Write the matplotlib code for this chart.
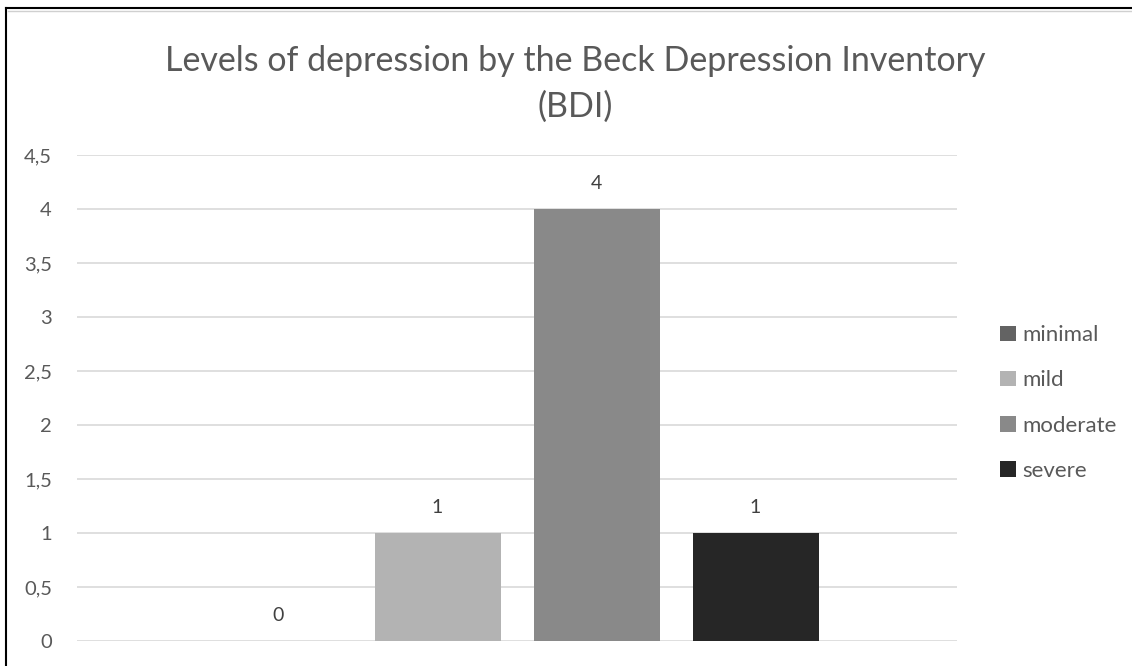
import matplotlib
matplotlib.use("Agg")
import matplotlib.pyplot as plt
from matplotlib.lines import Line2D
from matplotlib.patches import Patch

# Data
levels = ["minimal", "mild", "moderate", "severe"]
counts = [0, 1, 4, 1]
colors = ["#636363", "#b3b3b3", "#898989", "#262626"]
yticks = [0, 0.5, 1, 1.5, 2, 2.5, 3, 3.5, 4, 4.5]
ytick_labels = ["0", "0,5", "1", "1,5", "2", "2,5", "3", "3,5", "4", "4,5"]
title = "Levels of depression by the Beck Depression Inventory\n(BDI)"

plt.rcParams["font.family"] = ["Lato", "DejaVu Sans"]
text_color = "#595959"

W, H = 1132, 666
fig = plt.figure(figsize=(W / 100, H / 100), dpi=100)
ax = fig.add_axes([77 / W, (H - 641) / H, (957 - 77) / W, (641 - 155) / H])

bar_w = 126 / 880
step = 159 / 880
n = len(levels)
for i, (lab, v, c) in enumerate(zip(levels, counts, colors)):
    x = (i - (n - 1) / 2) * step
    ax.bar(x, v, width=bar_w, color=c, label=lab, zorder=3)
    ax.annotate(str(v), (x, v), xytext=(0, 18.5), textcoords="offset points",
                ha="center", va="center", fontsize=14, color="#404040")

ax.set_xlim(-0.5, 0.5)
ax.set_ylim(0, 4.5)
ax.set_yticks(yticks)
ax.set_yticklabels(ytick_labels)
ax.set_xticks([])
ax.grid(axis="y", color="#d9d9d9", linewidth=1.2, zorder=0)
ax.tick_params(axis="y", length=0, pad=18, labelsize=14.5, labelcolor=text_color)
for s in ax.spines.values():
    s.set_visible(False)
ax.set_axisbelow(True)

fig.text(575 / W, 1 - 84 / H, title, ha="center", va="center",
         fontsize=24.5, color=text_color, linespacing=1.5)

handles = [Patch(facecolor=c, edgecolor="none") for c in colors]
fig.legend(handles, levels, loc="center left",
           bbox_to_anchor=(980 / W, 1 - 403 / H), frameon=False,
           fontsize=16, labelcolor=text_color, handlelength=0.7,
           handleheight=0.7, handletextpad=0.3, labelspacing=1.13)

# frame edges along the top and left
fig.add_artist(Line2D([6 / W, 1], [1 - 8 / H, 1 - 8 / H], color="black", linewidth=1.5))
fig.add_artist(Line2D([6 / W, 6 / W], [0, 1 - 8 / H], color="black", linewidth=1.5))
fig.add_artist(Line2D([8 / W, 1], [1 - 11 / H, 1 - 11 / H], color="#d0d0d0", linewidth=1.0))

fig.savefig("out.png", dpi=100)
